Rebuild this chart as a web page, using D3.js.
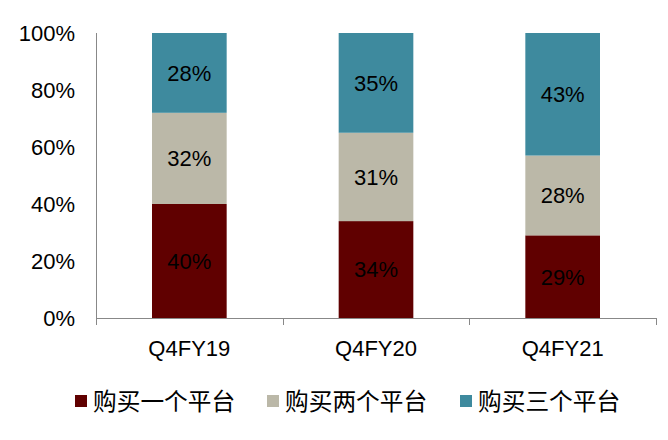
<!DOCTYPE html>
<html><head><meta charset="utf-8">
<script src="https://cdn.jsdelivr.net/npm/d3@7"></script>
<style>body{margin:0;background:#fff}svg{display:block}</style>
</head><body><svg id="c" width="668" height="440"></svg>
<script>
const categories = ["Q4FY19", "Q4FY20", "Q4FY21"];
const seriesNames = ["购买一个平台", "购买两个平台", "购买三个平台"];
const oneVals = [40, 34, 29];
const twoVals = [32, 31, 28];
const threeVals = [28, 35, 43];
const colors = ["#600000", "#BBB8A8", "#3E8A9E"];
const yTicks = [0, 20, 40, 60, 80, 100];

const svg = d3.select("#c");
const pLeft = 96, pRight = 656, pTop = 33, pBottom = 318;
const x = d3.scaleBand().domain(categories).range([pLeft, pRight]).paddingInner(0.6).paddingOuter(0.3);
const y = d3.scaleLinear().domain([0, 100]).range([pBottom, pTop]);

const rows = categories.map((c, i) => ({cat: c, s0: oneVals[i], s1: twoVals[i], s2: threeVals[i]}));
const stack = d3.stack().keys(["s0", "s1", "s2"])(rows);

const font = "Arial, 'Liberation Sans', sans-serif";

stack.forEach((layer, li) => {
  const g = svg.append("g");
  g.selectAll("rect").data(layer).join("rect")
    .attr("x", d => x(d.data.cat))
    .attr("width", x.bandwidth())
    .attr("y", d => y(d[1]))
    .attr("height", d => y(d[0]) - y(d[1]))
    .attr("fill", colors[li]);
  g.selectAll("text").data(layer).join("text")
    .attr("x", d => x(d.data.cat) + x.bandwidth() / 2)
    .attr("y", d => (y(d[0]) + y(d[1])) / 2)
    .attr("dy", "0.36em")
    .attr("text-anchor", "middle")
    .attr("font-family", font).attr("font-size", 22).attr("fill", "#000")
    .text(d => (d[1] - d[0]) + "%");
});

// Y axis
const yAxis = svg.append("g").attr("transform", `translate(${pLeft},0)`)
  .call(d3.axisLeft(y).tickValues(yTicks).tickFormat(d => d + "%").tickSize(0).tickPadding(21));
yAxis.select(".domain").remove();
yAxis.selectAll("text").attr("font-family", font).attr("font-size", 22).attr("fill", "#000");
svg.append("line").attr("x1", pLeft + 0.5).attr("x2", pLeft + 0.5).attr("y1", pTop).attr("y2", pBottom + 7)
  .attr("stroke", "#888").attr("stroke-width", 1);

// X axis
const xAxis = svg.append("g").attr("transform", `translate(0,${pBottom})`)
  .call(d3.axisBottom(x).tickSize(0).tickPadding(22));
xAxis.select(".domain").remove();
xAxis.selectAll("text").attr("font-family", font).attr("font-size", 22).attr("fill", "#000");
svg.append("line").attr("x1", pLeft).attr("x2", pRight).attr("y1", pBottom + 0.5).attr("y2", pBottom + 0.5)
  .attr("stroke", "#888");
const step = (pRight - pLeft) / categories.length;
d3.range(categories.length + 1).forEach(i => {
  const xx = Math.round(pLeft + i * step) + 0.5;
  svg.append("line").attr("x1", xx).attr("x2", xx).attr("y1", pBottom).attr("y2", pBottom + 7).attr("stroke", "#888");
});

// Legend
const legX = [75, 267, 460];
const leg = svg.append("g");
seriesNames.forEach((n, i) => {
  leg.append("rect").attr("x", legX[i]).attr("y", 395).attr("width", 12).attr("height", 12).attr("fill", colors[i]);
  leg.append("text").attr("x", legX[i] + 18).attr("y", 410)
    .attr("font-family", "'Noto Sans CJK SC', sans-serif").attr("font-size", 23.7).attr("fill", "#000")
    .text(n);
});
</script></body></html>
